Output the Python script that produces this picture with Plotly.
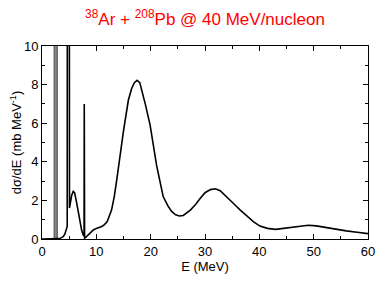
import plotly.graph_objects as go

# Narrow resonance drawn as a grey band (E in MeV, dsigma/dE in mb/MeV)
res_e = [2.25, 2.25, 2.8, 2.8]
res_s = [0.0, 12.0, 12.0, 0.0]

# Main spectrum
energy = [0.0, 2.9, 3.2, 3.6, 3.9, 4.2, 4.5, 4.64, 4.66, 5.04, 5.06, 5.25, 5.45, 5.75,
          6.0, 6.4, 6.7, 7.0, 7.3, 7.6, 7.74, 7.78, 7.84, 8.0, 8.5, 9.0, 9.45, 10.0,
          10.5, 11.0, 11.5, 12.0, 12.8, 13.3, 13.75, 14.4, 15.0, 15.9, 16.5, 17.0,
          17.5, 18.0, 18.5, 19.0, 19.9, 21.1, 22.3, 23.2, 23.9, 24.6, 25.3, 26.0,
          27.3, 28.3, 29.1, 30.0, 31.0, 31.9, 32.8, 34.0, 35.2, 36.5, 37.7, 38.9,
          40.1, 41.5, 43.0, 44.5, 46.0, 47.5, 49.0, 50.5, 52.0, 54.0, 56.0, 58.0, 60.0]
dsde = [0.0, 0.0, 0.02, 0.07, 0.12, 0.25, 0.5, 0.65, 12.0, 12.0, 1.6, 1.9, 2.25, 2.47,
        2.4, 1.85, 1.3, 0.8, 0.45, 0.2, 0.15, 7.0, 0.05, 0.07, 0.2, 0.35, 0.47, 0.55,
        0.6, 0.65, 0.75, 0.9, 1.5, 2.2, 3.05, 4.5, 5.6, 7.2, 7.8, 8.1,
        8.22, 8.1, 7.6, 7.0, 5.9, 3.8, 2.2, 1.7, 1.42, 1.25, 1.19, 1.22,
        1.5, 1.8, 2.1, 2.4, 2.56, 2.6, 2.5, 2.2, 1.85, 1.5, 1.2, 0.9,
        0.67, 0.55, 0.5, 0.55, 0.62, 0.68, 0.71, 0.68, 0.6, 0.5, 0.42, 0.35, 0.28]

x_ticks = [0, 10, 20, 30, 40, 50, 60]
y_ticks = [0, 2, 4, 6, 8, 10]

fig = go.Figure()
fig.add_trace(go.Scatter(x=res_e, y=res_s, mode="lines", fill="toself",
                         fillcolor="#8a8a8a", line=dict(color="#555555", width=1.2),
                         hoverinfo="skip", showlegend=False))
fig.add_trace(go.Scatter(x=energy, y=dsde, mode="lines",
                         line=dict(color="black", width=1.6), showlegend=False))

axis_common = dict(showline=True, linecolor="black", linewidth=1, mirror="allticks",
                   ticks="inside", ticklen=5, tickcolor="black", showgrid=False,
                   zeroline=False, automargin=False,
                   tickfont=dict(size=13, color="black"))

fig.update_xaxes(range=[0, 60], tickvals=x_ticks,
                 minor=dict(ticks="inside", ticklen=3, dtick=5, tickcolor="black", showgrid=False),
                 title=dict(text="E (MeV)", font=dict(size=13, color="black"), standoff=0),
                 **axis_common)
fig.update_yaxes(range=[0, 10], tickvals=y_ticks,
                 minor=dict(ticks="inside", ticklen=3, dtick=1, tickcolor="black", showgrid=False),
                 title=dict(text="dσ/dE (mb MeV<sup>-1</sup>)", font=dict(size=13, color="black"), standoff=8),
                 **axis_common)

fig.update_layout(
    width=390, height=282,
    margin=dict(l=34, r=30, t=38, b=51),
    paper_bgcolor="white", plot_bgcolor="white",
    font=dict(family="Liberation Sans, Arial, sans-serif", color="black"),
    title=dict(text="<sup>38</sup>Ar + <sup>208</sup>Pb @ 40 MeV/nucleon",
               font=dict(size=17, color="red"), x=0.5, xref="paper",
               y=0.96, yref="container", yanchor="middle", automargin=False),
)

fig.write_html("out.html")
